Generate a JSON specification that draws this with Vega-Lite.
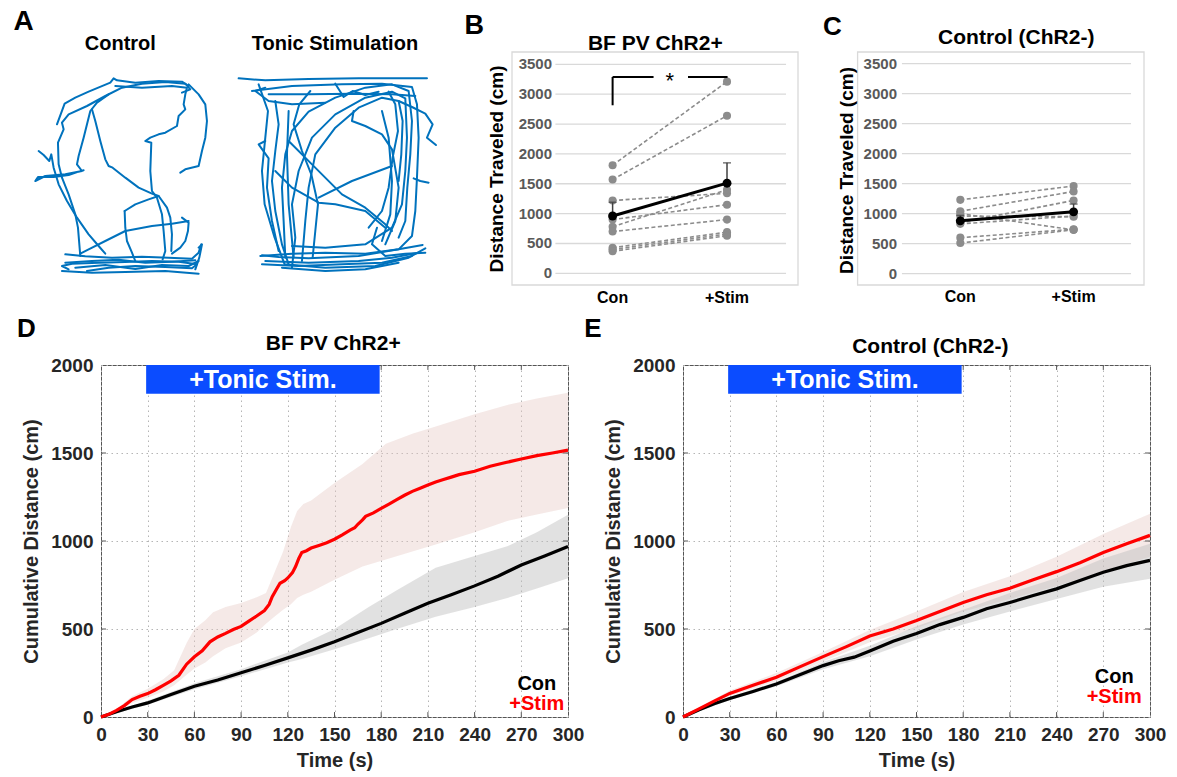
{
"$schema": "https://vega.github.io/schema/vega-lite/v6.json",
"background": "white",
"padding": {"left": 13, "top": 7, "right": 5, "bottom": 5},
"columns": 2,
"bounds": "flush",
"spacing": {"row": 80, "column": 115},
"config": {
 "font": "Liberation Sans",
 "view": {"stroke": null},
 "axis": {"labelFont": "Liberation Sans", "titleFont": "Liberation Sans", "labelFontWeight": "bold", "titleFontWeight": "bold"},
 "text": {"font": "Liberation Sans"}
},
"datasets": {
 "tracks": [
  {"p":"c","s":1,"i":0,"x":185,"y":600},{"p":"c","s":1,"i":1,"x":250,"y":590},{"p":"c","s":1,"i":2,"x":330,"y":585},{"p":"c","s":1,"i":3,"x":420,"y":588},{"p":"c","s":1,"i":4,"x":500,"y":592},{"p":"c","s":1,"i":5,"x":515,"y":580},{"p":"c","s":1,"i":6,"x":460,"y":572},{"p":"c","s":1,"i":7,"x":380,"y":570},{"p":"c","s":1,"i":8,"x":300,"y":573},{"p":"c","s":1,"i":9,"x":220,"y":575},{"p":"c","s":1,"i":10,"x":140,"y":578},{"p":"c","s":1,"i":11,"x":110,"y":585},{"p":"c","s":1,"i":12,"x":130,"y":595},
  {"p":"c","s":2,"i":0,"x":120,"y":550},{"p":"c","s":2,"i":1,"x":180,"y":556},{"p":"c","s":2,"i":2,"x":260,"y":560},{"p":"c","s":2,"i":3,"x":350,"y":557},{"p":"c","s":2,"i":4,"x":430,"y":560},{"p":"c","s":2,"i":5,"x":500,"y":563},{"p":"c","s":2,"i":6,"x":520,"y":545},{"p":"c","s":2,"i":7,"x":528,"y":520},
  {"p":"c","s":3,"i":0,"x":110,"y":600},{"p":"c","s":3,"i":1,"x":200,"y":605},{"p":"c","s":3,"i":2,"x":300,"y":603},{"p":"c","s":3,"i":3,"x":420,"y":600},{"p":"c","s":3,"i":4,"x":520,"y":608},
  {"p":"c","s":4,"i":0,"x":165,"y":555},{"p":"c","s":4,"i":1,"x":158,"y":470},{"p":"c","s":4,"i":2,"x":150,"y":430},{"p":"c","s":4,"i":3,"x":130,"y":370},{"p":"c","s":4,"i":4,"x":110,"y":320},{"p":"c","s":4,"i":5,"x":100,"y":280},{"p":"c","s":4,"i":6,"x":98,"y":215},{"p":"c","s":4,"i":7,"x":115,"y":175},{"p":"c","s":4,"i":8,"x":110,"y":155},{"p":"c","s":4,"i":9,"x":130,"y":130},{"p":"c","s":4,"i":10,"x":185,"y":105},{"p":"c","s":4,"i":11,"x":240,"y":75},{"p":"c","s":4,"i":12,"x":290,"y":50},{"p":"c","s":4,"i":13,"x":350,"y":38},{"p":"c","s":4,"i":14,"x":420,"y":33},{"p":"c","s":4,"i":15,"x":480,"y":38},{"p":"c","s":4,"i":16,"x":495,"y":55},{"p":"c","s":4,"i":17,"x":470,"y":65},
  {"p":"c","s":5,"i":0,"x":95,"y":160},{"p":"c","s":5,"i":1,"x":118,"y":98},{"p":"c","s":5,"i":2,"x":150,"y":80},{"p":"c","s":5,"i":3,"x":190,"y":62},{"p":"c","s":5,"i":4,"x":255,"y":35},{"p":"c","s":5,"i":5,"x":265,"y":22},{"p":"c","s":5,"i":6,"x":275,"y":28},{"p":"c","s":5,"i":7,"x":330,"y":35},{"p":"c","s":5,"i":8,"x":400,"y":30},{"p":"c","s":5,"i":9,"x":470,"y":32},{"p":"c","s":5,"i":10,"x":490,"y":45},
  {"p":"c","s":6,"i":0,"x":270,"y":45},{"p":"c","s":6,"i":1,"x":350,"y":50},{"p":"c","s":6,"i":2,"x":440,"y":45},{"p":"c","s":6,"i":3,"x":485,"y":50},{"p":"c","s":6,"i":4,"x":480,"y":70},{"p":"c","s":6,"i":5,"x":475,"y":100},{"p":"c","s":6,"i":6,"x":480,"y":115},{"p":"c","s":6,"i":7,"x":460,"y":135},{"p":"c","s":6,"i":8,"x":455,"y":165},{"p":"c","s":6,"i":9,"x":420,"y":185},{"p":"c","s":6,"i":10,"x":400,"y":190},{"p":"c","s":6,"i":11,"x":375,"y":200},{"p":"c","s":6,"i":12,"x":360,"y":210},{"p":"c","s":6,"i":13,"x":378,"y":215},{"p":"c","s":6,"i":14,"x":375,"y":300},{"p":"c","s":6,"i":15,"x":380,"y":360},{"p":"c","s":6,"i":16,"x":395,"y":380},{"p":"c","s":6,"i":17,"x":410,"y":430},{"p":"c","s":6,"i":18,"x":415,"y":480},{"p":"c","s":6,"i":19,"x":420,"y":540},{"p":"c","s":6,"i":20,"x":412,"y":565},
  {"p":"c","s":7,"i":0,"x":490,"y":40},{"p":"c","s":7,"i":1,"x":520,"y":70},{"p":"c","s":7,"i":2,"x":540,"y":100},{"p":"c","s":7,"i":3,"x":545,"y":150},{"p":"c","s":7,"i":4,"x":540,"y":200},{"p":"c","s":7,"i":5,"x":530,"y":240},{"p":"c","s":7,"i":6,"x":520,"y":285},{"p":"c","s":7,"i":7,"x":480,"y":295},{"p":"c","s":7,"i":8,"x":465,"y":305},
  {"p":"c","s":8,"i":0,"x":200,"y":115},{"p":"c","s":8,"i":1,"x":210,"y":150},{"p":"c","s":8,"i":2,"x":225,"y":210},{"p":"c","s":8,"i":3,"x":240,"y":265},{"p":"c","s":8,"i":4,"x":250,"y":285},{"p":"c","s":8,"i":5,"x":262,"y":290},{"p":"c","s":8,"i":6,"x":300,"y":320},{"p":"c","s":8,"i":7,"x":340,"y":350},{"p":"c","s":8,"i":8,"x":380,"y":368},{"p":"c","s":8,"i":9,"x":400,"y":375},{"p":"c","s":8,"i":10,"x":425,"y":410},{"p":"c","s":8,"i":11,"x":435,"y":440},{"p":"c","s":8,"i":12,"x":440,"y":490},{"p":"c","s":8,"i":13,"x":438,"y":540},
  {"p":"c","s":9,"i":0,"x":250,"y":70},{"p":"c","s":9,"i":1,"x":215,"y":95},{"p":"c","s":9,"i":2,"x":195,"y":120},{"p":"c","s":9,"i":3,"x":175,"y":200},{"p":"c","s":9,"i":4,"x":160,"y":255},{"p":"c","s":9,"i":5,"x":155,"y":280},{"p":"c","s":9,"i":6,"x":170,"y":300},{"p":"c","s":9,"i":7,"x":120,"y":310},{"p":"c","s":9,"i":8,"x":60,"y":315},{"p":"c","s":9,"i":9,"x":30,"y":330},{"p":"c","s":9,"i":10,"x":38,"y":318},{"p":"c","s":9,"i":11,"x":85,"y":318},{"p":"c","s":9,"i":12,"x":130,"y":312},{"p":"c","s":9,"i":13,"x":160,"y":302},{"p":"c","s":9,"i":14,"x":175,"y":298},
  {"p":"c","s":10,"i":0,"x":40,"y":240},{"p":"c","s":10,"i":1,"x":55,"y":252},{"p":"c","s":10,"i":2,"x":72,"y":270},{"p":"c","s":10,"i":3,"x":78,"y":250},{"p":"c","s":10,"i":4,"x":85,"y":290},{"p":"c","s":10,"i":5,"x":100,"y":340},{"p":"c","s":10,"i":6,"x":125,"y":390},{"p":"c","s":10,"i":7,"x":155,"y":440},{"p":"c","s":10,"i":8,"x":190,"y":490},{"p":"c","s":10,"i":9,"x":220,"y":525},{"p":"c","s":10,"i":10,"x":240,"y":548},
  {"p":"c","s":11,"i":0,"x":490,"y":450},{"p":"c","s":11,"i":1,"x":440,"y":458},{"p":"c","s":11,"i":2,"x":380,"y":465},{"p":"c","s":11,"i":3,"x":300,"y":480},{"p":"c","s":11,"i":4,"x":240,"y":510},{"p":"c","s":11,"i":5,"x":190,"y":535},{"p":"c","s":11,"i":6,"x":165,"y":548},
  {"p":"c","s":12,"i":0,"x":298,"y":420},{"p":"c","s":12,"i":1,"x":300,"y":470},{"p":"c","s":12,"i":2,"x":305,"y":510},{"p":"c","s":12,"i":3,"x":320,"y":545},{"p":"c","s":12,"i":4,"x":330,"y":570},
  {"p":"c","s":13,"i":0,"x":298,"y":420},{"p":"c","s":13,"i":1,"x":330,"y":400},{"p":"c","s":13,"i":2,"x":370,"y":385},{"p":"c","s":13,"i":3,"x":400,"y":375},
  {"p":"c","s":14,"i":0,"x":470,"y":440},{"p":"c","s":14,"i":1,"x":490,"y":455},{"p":"c","s":14,"i":2,"x":488,"y":480},{"p":"c","s":14,"i":3,"x":480,"y":510},{"p":"c","s":14,"i":4,"x":465,"y":530},{"p":"c","s":14,"i":5,"x":440,"y":548},
  {"p":"c","s":15,"i":0,"x":520,"y":530},{"p":"c","s":15,"i":1,"x":530,"y":520},{"p":"c","s":15,"i":2,"x":522,"y":560},{"p":"c","s":15,"i":3,"x":510,"y":595},
  {"p":"c","s":16,"i":0,"x":120,"y":575},{"p":"c","s":16,"i":1,"x":200,"y":570},{"p":"c","s":16,"i":2,"x":280,"y":566},{"p":"c","s":16,"i":3,"x":360,"y":575},{"p":"c","s":16,"i":4,"x":440,"y":572},{"p":"c","s":16,"i":5,"x":510,"y":568},
  {"p":"c","s":17,"i":0,"x":150,"y":590},{"p":"c","s":17,"i":1,"x":240,"y":582},{"p":"c","s":17,"i":2,"x":330,"y":594},{"p":"c","s":17,"i":3,"x":410,"y":582},{"p":"c","s":17,"i":4,"x":490,"y":585},{"p":"c","s":17,"i":5,"x":520,"y":570},
  {"p":"t","s":1,"i":0,"x":40,"y":22},{"p":"t","s":1,"i":1,"x":120,"y":28},{"p":"t","s":1,"i":2,"x":250,"y":24},{"p":"t","s":1,"i":3,"x":400,"y":22},{"p":"t","s":1,"i":4,"x":605,"y":22},
  {"p":"t","s":2,"i":0,"x":80,"y":60},{"p":"t","s":2,"i":1,"x":200,"y":45},{"p":"t","s":2,"i":2,"x":350,"y":40},{"p":"t","s":2,"i":3,"x":470,"y":38},{"p":"t","s":2,"i":4,"x":560,"y":48},{"p":"t","s":2,"i":5,"x":575,"y":100},{"p":"t","s":2,"i":6,"x":580,"y":200},{"p":"t","s":2,"i":7,"x":575,"y":320},{"p":"t","s":2,"i":8,"x":570,"y":420},{"p":"t","s":2,"i":9,"x":560,"y":495},{"p":"t","s":2,"i":10,"x":520,"y":535},{"p":"t","s":2,"i":11,"x":400,"y":555},{"p":"t","s":2,"i":12,"x":250,"y":562},{"p":"t","s":2,"i":13,"x":160,"y":558},{"p":"t","s":2,"i":14,"x":110,"y":553},
  {"p":"t","s":3,"i":0,"x":100,"y":40},{"p":"t","s":3,"i":1,"x":128,"y":120},{"p":"t","s":3,"i":2,"x":120,"y":200},{"p":"t","s":3,"i":3,"x":110,"y":300},{"p":"t","s":3,"i":4,"x":118,"y":400},{"p":"t","s":3,"i":5,"x":148,"y":500},{"p":"t","s":3,"i":6,"x":178,"y":580},{"p":"t","s":3,"i":7,"x":300,"y":590},{"p":"t","s":3,"i":8,"x":450,"y":585},{"p":"t","s":3,"i":9,"x":550,"y":560},{"p":"t","s":3,"i":10,"x":600,"y":532},
  {"p":"t","s":4,"i":0,"x":180,"y":560},{"p":"t","s":4,"i":1,"x":175,"y":450},{"p":"t","s":4,"i":2,"x":170,"y":350},{"p":"t","s":4,"i":3,"x":180,"y":250},{"p":"t","s":4,"i":4,"x":200,"y":180},{"p":"t","s":4,"i":5,"x":250,"y":122},{"p":"t","s":4,"i":6,"x":330,"y":80},{"p":"t","s":4,"i":7,"x":420,"y":50},{"p":"t","s":4,"i":8,"x":500,"y":40},{"p":"t","s":4,"i":9,"x":550,"y":60},{"p":"t","s":4,"i":10,"x":560,"y":150},{"p":"t","s":4,"i":11,"x":555,"y":250},{"p":"t","s":4,"i":12,"x":546,"y":350},{"p":"t","s":4,"i":13,"x":540,"y":450},{"p":"t","s":4,"i":14,"x":520,"y":500},
  {"p":"t","s":5,"i":0,"x":200,"y":590},{"p":"t","s":5,"i":1,"x":210,"y":500},{"p":"t","s":5,"i":2,"x":200,"y":400},{"p":"t","s":5,"i":3,"x":220,"y":300},{"p":"t","s":5,"i":4,"x":260,"y":200},{"p":"t","s":5,"i":5,"x":330,"y":130},{"p":"t","s":5,"i":6,"x":420,"y":80},{"p":"t","s":5,"i":7,"x":500,"y":62},{"p":"t","s":5,"i":8,"x":540,"y":82},{"p":"t","s":5,"i":9,"x":545,"y":200},{"p":"t","s":5,"i":10,"x":540,"y":300},{"p":"t","s":5,"i":11,"x":530,"y":400},{"p":"t","s":5,"i":12,"x":500,"y":470},{"p":"t","s":5,"i":13,"x":420,"y":520},{"p":"t","s":5,"i":14,"x":300,"y":530},{"p":"t","s":5,"i":15,"x":200,"y":525},
  {"p":"t","s":6,"i":0,"x":230,"y":570},{"p":"t","s":6,"i":1,"x":240,"y":450},{"p":"t","s":6,"i":2,"x":250,"y":350},{"p":"t","s":6,"i":3,"x":270,"y":250},{"p":"t","s":6,"i":4,"x":330,"y":170},{"p":"t","s":6,"i":5,"x":400,"y":110},{"p":"t","s":6,"i":6,"x":470,"y":80},{"p":"t","s":6,"i":7,"x":520,"y":90},{"p":"t","s":6,"i":8,"x":532,"y":150},{"p":"t","s":6,"i":9,"x":528,"y":250},{"p":"t","s":6,"i":10,"x":520,"y":330},
  {"p":"t","s":7,"i":0,"x":150,"y":90},{"p":"t","s":7,"i":1,"x":160,"y":160},{"p":"t","s":7,"i":2,"x":150,"y":240},{"p":"t","s":7,"i":3,"x":140,"y":330},{"p":"t","s":7,"i":4,"x":150,"y":420},{"p":"t","s":7,"i":5,"x":170,"y":520},{"p":"t","s":7,"i":6,"x":190,"y":580},
  {"p":"t","s":8,"i":0,"x":190,"y":210},{"p":"t","s":8,"i":1,"x":260,"y":280},{"p":"t","s":8,"i":2,"x":350,"y":370},{"p":"t","s":8,"i":3,"x":420,"y":410},{"p":"t","s":8,"i":4,"x":480,"y":460},{"p":"t","s":8,"i":5,"x":500,"y":480},
  {"p":"t","s":9,"i":0,"x":280,"y":380},{"p":"t","s":9,"i":1,"x":380,"y":330},{"p":"t","s":9,"i":2,"x":500,"y":285},
  {"p":"t","s":10,"i":0,"x":120,"y":210},{"p":"t","s":10,"i":1,"x":100,"y":220},{"p":"t","s":10,"i":2,"x":130,"y":262},{"p":"t","s":10,"i":3,"x":125,"y":350},{"p":"t","s":10,"i":4,"x":140,"y":450},{"p":"t","s":10,"i":5,"x":160,"y":540},
  {"p":"t","s":11,"i":0,"x":385,"y":120},{"p":"t","s":11,"i":1,"x":380,"y":150},{"p":"t","s":11,"i":2,"x":420,"y":165},{"p":"t","s":11,"i":3,"x":470,"y":190},{"p":"t","s":11,"i":4,"x":500,"y":235},{"p":"t","s":11,"i":5,"x":520,"y":350},{"p":"t","s":11,"i":6,"x":510,"y":450},{"p":"t","s":11,"i":7,"x":480,"y":520},
  {"p":"t","s":12,"i":0,"x":520,"y":90},{"p":"t","s":12,"i":1,"x":560,"y":108},{"p":"t","s":12,"i":2,"x":600,"y":128},{"p":"t","s":12,"i":3,"x":622,"y":160},{"p":"t","s":12,"i":4,"x":605,"y":200},{"p":"t","s":12,"i":5,"x":632,"y":222},
  {"p":"t","s":13,"i":0,"x":600,"y":545},{"p":"t","s":13,"i":1,"x":540,"y":548},{"p":"t","s":13,"i":2,"x":480,"y":555},{"p":"t","s":13,"i":3,"x":440,"y":520},{"p":"t","s":13,"i":4,"x":455,"y":470},
  {"p":"t","s":14,"i":0,"x":255,"y":60},{"p":"t","s":14,"i":1,"x":222,"y":100},{"p":"t","s":14,"i":2,"x":205,"y":160},{"p":"t","s":14,"i":3,"x":230,"y":240},{"p":"t","s":14,"i":4,"x":258,"y":310},{"p":"t","s":14,"i":5,"x":278,"y":400},{"p":"t","s":14,"i":6,"x":270,"y":480},{"p":"t","s":14,"i":7,"x":262,"y":560},
  {"p":"t","s":15,"i":0,"x":105,"y":555},{"p":"t","s":15,"i":1,"x":200,"y":548},{"p":"t","s":15,"i":2,"x":300,"y":545},{"p":"t","s":15,"i":3,"x":420,"y":548},{"p":"t","s":15,"i":4,"x":520,"y":535},{"p":"t","s":15,"i":5,"x":592,"y":522},
  {"p":"t","s":16,"i":0,"x":330,"y":38},{"p":"t","s":16,"i":1,"x":355,"y":78},{"p":"t","s":16,"i":2,"x":382,"y":60},{"p":"t","s":16,"i":3,"x":420,"y":72},{"p":"t","s":16,"i":4,"x":460,"y":62},
  {"p":"t","s":17,"i":0,"x":490,"y":62},{"p":"t","s":17,"i":1,"x":510,"y":100},{"p":"t","s":17,"i":2,"x":518,"y":180},{"p":"t","s":17,"i":3,"x":502,"y":260},{"p":"t","s":17,"i":4,"x":490,"y":350},{"p":"t","s":17,"i":5,"x":470,"y":420},{"p":"t","s":17,"i":6,"x":430,"y":470},
  {"p":"t","s":18,"i":0,"x":610,"y":335},{"p":"t","s":18,"i":1,"x":585,"y":330},{"p":"t","s":18,"i":2,"x":565,"y":322},
  {"p":"t","s":19,"i":0,"x":120,"y":50},{"p":"t","s":19,"i":1,"x":90,"y":60},{"p":"t","s":19,"i":2,"x":130,"y":90},{"p":"t","s":19,"i":3,"x":200,"y":100},{"p":"t","s":19,"i":4,"x":300,"y":95},
  {"p":"t","s":20,"i":0,"x":150,"y":300},{"p":"t","s":20,"i":1,"x":200,"y":350},{"p":"t","s":20,"i":2,"x":280,"y":395},{"p":"t","s":20,"i":3,"x":330,"y":400},{"p":"t","s":20,"i":4,"x":420,"y":420},{"p":"t","s":20,"i":5,"x":480,"y":470},
  {"p":"t","s":22,"i":0,"x":120,"y":570},{"p":"t","s":22,"i":1,"x":250,"y":575},{"p":"t","s":22,"i":2,"x":400,"y":570},{"p":"t","s":22,"i":3,"x":500,"y":560},{"p":"t","s":22,"i":4,"x":580,"y":545},
  {"p":"t","s":23,"i":0,"x":170,"y":590},{"p":"t","s":23,"i":1,"x":300,"y":600},{"p":"t","s":23,"i":2,"x":420,"y":595},{"p":"t","s":23,"i":3,"x":520,"y":575},
  {"p":"t","s":24,"i":0,"x":110,"y":580},{"p":"t","s":24,"i":1,"x":220,"y":585},{"p":"t","s":24,"i":2,"x":350,"y":580},{"p":"t","s":24,"i":3,"x":470,"y":575},{"p":"t","s":24,"i":4,"x":560,"y":555},
  {"p":"t","s":25,"i":0,"x":130,"y":70},{"p":"t","s":25,"i":1,"x":250,"y":70},{"p":"t","s":25,"i":2,"x":380,"y":68},{"p":"t","s":25,"i":3,"x":500,"y":70},{"p":"t","s":25,"i":4,"x":570,"y":75},
  {"p":"t","s":26,"i":0,"x":190,"y":120},{"p":"t","s":26,"i":1,"x":185,"y":250},{"p":"t","s":26,"i":2,"x":190,"y":400},{"p":"t","s":26,"i":3,"x":205,"y":560},
  {"p":"t","s":27,"i":0,"x":470,"y":120},{"p":"t","s":27,"i":1,"x":490,"y":200},{"p":"t","s":27,"i":2,"x":500,"y":330},{"p":"t","s":27,"i":3,"x":495,"y":430},{"p":"t","s":27,"i":4,"x":470,"y":510}
 ],
 "pairs": [
  {"pn":"B","a":1,"c":0,"v":1810},{"pn":"B","a":1,"c":1,"v":3210},
  {"pn":"B","a":2,"c":0,"v":1570},{"pn":"B","a":2,"c":1,"v":2640},
  {"pn":"B","a":3,"c":0,"v":1220},{"pn":"B","a":3,"c":1,"v":1340},
  {"pn":"B","a":4,"c":0,"v":780},{"pn":"B","a":4,"c":1,"v":1400},
  {"pn":"B","a":5,"c":0,"v":900},{"pn":"B","a":5,"c":1,"v":1150},
  {"pn":"B","a":6,"c":0,"v":700},{"pn":"B","a":6,"c":1,"v":900},
  {"pn":"B","a":7,"c":0,"v":430},{"pn":"B","a":7,"c":1,"v":690},
  {"pn":"B","a":8,"c":0,"v":400},{"pn":"B","a":8,"c":1,"v":660},
  {"pn":"B","a":9,"c":0,"v":370},{"pn":"B","a":9,"c":1,"v":630},
  {"pn":"C","a":1,"c":0,"v":1230},{"pn":"C","a":1,"c":1,"v":1460},
  {"pn":"C","a":2,"c":0,"v":1040},{"pn":"C","a":2,"c":1,"v":1370},
  {"pn":"C","a":3,"c":0,"v":1000},{"pn":"C","a":3,"c":1,"v":730},
  {"pn":"C","a":4,"c":0,"v":960},{"pn":"C","a":4,"c":1,"v":950},
  {"pn":"C","a":5,"c":0,"v":850},{"pn":"C","a":5,"c":1,"v":1220},
  {"pn":"C","a":6,"c":0,"v":830},{"pn":"C","a":6,"c":1,"v":960},
  {"pn":"C","a":7,"c":0,"v":600},{"pn":"C","a":7,"c":1,"v":740},
  {"pn":"C","a":8,"c":0,"v":510},{"pn":"C","a":8,"c":1,"v":730}
 ],
 "means": [
  {"pn":"B","c":0,"v":960,"u":1190},{"pn":"B","c":1,"v":1510,"u":1850},
  {"pn":"C","c":0,"v":880,"u":970},{"pn":"C","c":1,"v":1030,"u":1160}
 ],
 "grid": [{"v":0},{"v":500},{"v":1000},{"v":1500},{"v":2000},{"v":2500},{"v":3000},{"v":3500}],
 "xticks": [{"t":30},{"t":60},{"t":90},{"t":120},{"t":150},{"t":180},{"t":210},{"t":240},{"t":270}],
 "yticks": [{"v":500},{"v":1000},{"v":1500}],
 "lines": [
  {"pn":"D","g":"Stim","t":0,"v":0},{"pn":"D","g":"Stim","t":5,"v":15},{"pn":"D","g":"Stim","t":10,"v":38},{"pn":"D","g":"Stim","t":15,"v":65},{"pn":"D","g":"Stim","t":20,"v":99},{"pn":"D","g":"Stim","t":25,"v":118},{"pn":"D","g":"Stim","t":30,"v":133},{"pn":"D","g":"Stim","t":35,"v":155},{"pn":"D","g":"Stim","t":40,"v":180},{"pn":"D","g":"Stim","t":45,"v":205},{"pn":"D","g":"Stim","t":50,"v":237},{"pn":"D","g":"Stim","t":55,"v":300},{"pn":"D","g":"Stim","t":60,"v":342},{"pn":"D","g":"Stim","t":65,"v":376},{"pn":"D","g":"Stim","t":70,"v":427},{"pn":"D","g":"Stim","t":75,"v":455},{"pn":"D","g":"Stim","t":80,"v":475},{"pn":"D","g":"Stim","t":85,"v":497},{"pn":"D","g":"Stim","t":90,"v":515},{"pn":"D","g":"Stim","t":95,"v":545},{"pn":"D","g":"Stim","t":100,"v":574},{"pn":"D","g":"Stim","t":105,"v":605},{"pn":"D","g":"Stim","t":108,"v":640},{"pn":"D","g":"Stim","t":110,"v":684},{"pn":"D","g":"Stim","t":113,"v":730},{"pn":"D","g":"Stim","t":115,"v":760},{"pn":"D","g":"Stim","t":118,"v":775},{"pn":"D","g":"Stim","t":120,"v":790},{"pn":"D","g":"Stim","t":123,"v":820},{"pn":"D","g":"Stim","t":125,"v":855},{"pn":"D","g":"Stim","t":127,"v":900},{"pn":"D","g":"Stim","t":129,"v":935},{"pn":"D","g":"Stim","t":132,"v":945},{"pn":"D","g":"Stim","t":135,"v":960},{"pn":"D","g":"Stim","t":140,"v":975},{"pn":"D","g":"Stim","t":145,"v":990},{"pn":"D","g":"Stim","t":150,"v":1010},{"pn":"D","g":"Stim","t":155,"v":1035},{"pn":"D","g":"Stim","t":160,"v":1062},{"pn":"D","g":"Stim","t":163,"v":1075},{"pn":"D","g":"Stim","t":165,"v":1095},{"pn":"D","g":"Stim","t":168,"v":1120},{"pn":"D","g":"Stim","t":170,"v":1140},{"pn":"D","g":"Stim","t":175,"v":1160},{"pn":"D","g":"Stim","t":180,"v":1185},{"pn":"D","g":"Stim","t":185,"v":1210},{"pn":"D","g":"Stim","t":190,"v":1235},{"pn":"D","g":"Stim","t":195,"v":1260},{"pn":"D","g":"Stim","t":200,"v":1282},{"pn":"D","g":"Stim","t":205,"v":1300},{"pn":"D","g":"Stim","t":210,"v":1318},{"pn":"D","g":"Stim","t":215,"v":1335},{"pn":"D","g":"Stim","t":220,"v":1349},{"pn":"D","g":"Stim","t":225,"v":1363},{"pn":"D","g":"Stim","t":230,"v":1377},{"pn":"D","g":"Stim","t":240,"v":1396},{"pn":"D","g":"Stim","t":250,"v":1425},{"pn":"D","g":"Stim","t":260,"v":1446},{"pn":"D","g":"Stim","t":270,"v":1466},{"pn":"D","g":"Stim","t":280,"v":1485},{"pn":"D","g":"Stim","t":290,"v":1500},{"pn":"D","g":"Stim","t":300,"v":1516},
  {"pn":"D","g":"Con","t":0,"v":0},{"pn":"D","g":"Con","t":10,"v":30},{"pn":"D","g":"Con","t":20,"v":57},{"pn":"D","g":"Con","t":30,"v":80},{"pn":"D","g":"Con","t":45,"v":128},{"pn":"D","g":"Con","t":60,"v":175},{"pn":"D","g":"Con","t":75,"v":210},{"pn":"D","g":"Con","t":90,"v":251},{"pn":"D","g":"Con","t":105,"v":293},{"pn":"D","g":"Con","t":120,"v":336},{"pn":"D","g":"Con","t":135,"v":380},{"pn":"D","g":"Con","t":150,"v":427},{"pn":"D","g":"Con","t":165,"v":480},{"pn":"D","g":"Con","t":180,"v":532},{"pn":"D","g":"Con","t":195,"v":590},{"pn":"D","g":"Con","t":210,"v":646},{"pn":"D","g":"Con","t":225,"v":695},{"pn":"D","g":"Con","t":240,"v":745},{"pn":"D","g":"Con","t":255,"v":800},{"pn":"D","g":"Con","t":270,"v":864},{"pn":"D","g":"Con","t":285,"v":915},{"pn":"D","g":"Con","t":300,"v":969},
  {"pn":"E","g":"Stim","t":0,"v":0},{"pn":"E","g":"Stim","t":10,"v":45},{"pn":"E","g":"Stim","t":20,"v":90},{"pn":"E","g":"Stim","t":30,"v":134},{"pn":"E","g":"Stim","t":45,"v":180},{"pn":"E","g":"Stim","t":60,"v":226},{"pn":"E","g":"Stim","t":75,"v":285},{"pn":"E","g":"Stim","t":90,"v":343},{"pn":"E","g":"Stim","t":105,"v":400},{"pn":"E","g":"Stim","t":120,"v":460},{"pn":"E","g":"Stim","t":135,"v":500},{"pn":"E","g":"Stim","t":150,"v":548},{"pn":"E","g":"Stim","t":165,"v":600},{"pn":"E","g":"Stim","t":180,"v":650},{"pn":"E","g":"Stim","t":195,"v":695},{"pn":"E","g":"Stim","t":210,"v":732},{"pn":"E","g":"Stim","t":225,"v":780},{"pn":"E","g":"Stim","t":240,"v":826},{"pn":"E","g":"Stim","t":255,"v":877},{"pn":"E","g":"Stim","t":270,"v":935},{"pn":"E","g":"Stim","t":285,"v":985},{"pn":"E","g":"Stim","t":300,"v":1032},
  {"pn":"E","g":"Con","t":0,"v":0},{"pn":"E","g":"Con","t":10,"v":40},{"pn":"E","g":"Con","t":20,"v":75},{"pn":"E","g":"Con","t":30,"v":105},{"pn":"E","g":"Con","t":45,"v":145},{"pn":"E","g":"Con","t":60,"v":188},{"pn":"E","g":"Con","t":75,"v":240},{"pn":"E","g":"Con","t":90,"v":292},{"pn":"E","g":"Con","t":100,"v":320},{"pn":"E","g":"Con","t":110,"v":340},{"pn":"E","g":"Con","t":120,"v":375},{"pn":"E","g":"Con","t":135,"v":430},{"pn":"E","g":"Con","t":150,"v":475},{"pn":"E","g":"Con","t":165,"v":525},{"pn":"E","g":"Con","t":180,"v":566},{"pn":"E","g":"Con","t":195,"v":615},{"pn":"E","g":"Con","t":210,"v":651},{"pn":"E","g":"Con","t":225,"v":690},{"pn":"E","g":"Con","t":240,"v":728},{"pn":"E","g":"Con","t":255,"v":775},{"pn":"E","g":"Con","t":270,"v":822},{"pn":"E","g":"Con","t":285,"v":860},{"pn":"E","g":"Con","t":300,"v":890}
 ],
 "bands": [
  {"pn":"D","g":"Stim","t":0,"lo":0,"hi":0},{"pn":"D","g":"Stim","t":10,"lo":30,"hi":45},{"pn":"D","g":"Stim","t":20,"lo":80,"hi":118},{"pn":"D","g":"Stim","t":30,"lo":110,"hi":160},{"pn":"D","g":"Stim","t":40,"lo":145,"hi":215},{"pn":"D","g":"Stim","t":47,"lo":180,"hi":265},{"pn":"D","g":"Stim","t":55,"lo":240,"hi":420},{"pn":"D","g":"Stim","t":60,"lo":275,"hi":500},{"pn":"D","g":"Stim","t":67,"lo":310,"hi":550},{"pn":"D","g":"Stim","t":72,"lo":345,"hi":595},{"pn":"D","g":"Stim","t":80,"lo":390,"hi":625},{"pn":"D","g":"Stim","t":90,"lo":424,"hi":648},{"pn":"D","g":"Stim","t":100,"lo":480,"hi":680},{"pn":"D","g":"Stim","t":106,"lo":530,"hi":705},{"pn":"D","g":"Stim","t":110,"lo":560,"hi":790},{"pn":"D","g":"Stim","t":117,"lo":610,"hi":940},{"pn":"D","g":"Stim","t":122,"lo":640,"hi":1080},{"pn":"D","g":"Stim","t":126,"lo":676,"hi":1170},{"pn":"D","g":"Stim","t":130,"lo":695,"hi":1210},{"pn":"D","g":"Stim","t":135,"lo":712,"hi":1230},{"pn":"D","g":"Stim","t":150,"lo":780,"hi":1330},{"pn":"D","g":"Stim","t":168,"lo":855,"hi":1438},{"pn":"D","g":"Stim","t":183,"lo":895,"hi":1553},{"pn":"D","g":"Stim","t":200,"lo":940,"hi":1610},{"pn":"D","g":"Stim","t":215,"lo":980,"hi":1650},{"pn":"D","g":"Stim","t":240,"lo":1050,"hi":1720},{"pn":"D","g":"Stim","t":261,"lo":1114,"hi":1773},{"pn":"D","g":"Stim","t":280,"lo":1150,"hi":1810},{"pn":"D","g":"Stim","t":300,"lo":1187,"hi":1842},
  {"pn":"D","g":"Con","t":0,"lo":0,"hi":0},{"pn":"D","g":"Con","t":30,"lo":70,"hi":92},{"pn":"D","g":"Con","t":60,"lo":158,"hi":192},{"pn":"D","g":"Con","t":90,"lo":232,"hi":272},{"pn":"D","g":"Con","t":120,"lo":310,"hi":366},{"pn":"D","g":"Con","t":129,"lo":330,"hi":410},{"pn":"D","g":"Con","t":150,"lo":385,"hi":500},{"pn":"D","g":"Con","t":172,"lo":447,"hi":625},{"pn":"D","g":"Con","t":190,"lo":500,"hi":720},{"pn":"D","g":"Con","t":215,"lo":569,"hi":848},{"pn":"D","g":"Con","t":240,"lo":625,"hi":915},{"pn":"D","g":"Con","t":261,"lo":676,"hi":970},{"pn":"D","g":"Con","t":280,"lo":730,"hi":1050},{"pn":"D","g":"Con","t":300,"lo":788,"hi":1149},
  {"pn":"E","g":"Stim","t":0,"lo":0,"hi":0},{"pn":"E","g":"Stim","t":30,"lo":120,"hi":150},{"pn":"E","g":"Stim","t":60,"lo":205,"hi":250},{"pn":"E","g":"Stim","t":90,"lo":315,"hi":370},{"pn":"E","g":"Stim","t":120,"lo":425,"hi":495},{"pn":"E","g":"Stim","t":150,"lo":505,"hi":600},{"pn":"E","g":"Stim","t":180,"lo":600,"hi":710},{"pn":"E","g":"Stim","t":210,"lo":670,"hi":800},{"pn":"E","g":"Stim","t":240,"lo":745,"hi":910},{"pn":"E","g":"Stim","t":270,"lo":830,"hi":1040},{"pn":"E","g":"Stim","t":300,"lo":910,"hi":1155},
  {"pn":"E","g":"Con","t":0,"lo":0,"hi":0},{"pn":"E","g":"Con","t":30,"lo":95,"hi":115},{"pn":"E","g":"Con","t":60,"lo":175,"hi":200},{"pn":"E","g":"Con","t":90,"lo":272,"hi":312},{"pn":"E","g":"Con","t":120,"lo":345,"hi":405},{"pn":"E","g":"Con","t":150,"lo":440,"hi":515},{"pn":"E","g":"Con","t":180,"lo":525,"hi":610},{"pn":"E","g":"Con","t":210,"lo":600,"hi":705},{"pn":"E","g":"Con","t":240,"lo":670,"hi":790},{"pn":"E","g":"Con","t":270,"lo":740,"hi":900},{"pn":"E","g":"Con","t":300,"lo":786,"hi":985}
 ]
},
"concat": [
 {
  "width": 467, "height": 233,
  "resolve": {"scale": {"x": "independent", "y": "independent"}},
  "layer": [
   {"layer": [
     {"data": {"name": "tracks"}, "transform": [{"filter": "datum.p == 'c'"}],
      "mark": {"type": "line", "color": "#0072bd", "strokeWidth": 2, "strokeJoin": "round", "strokeCap": "round"},
      "encoding": {
       "x": {"field": "x", "type": "quantitative", "scale": {"domain": [227.1, 1628.1], "nice": false, "zero": false}, "axis": null},
       "y": {"field": "y", "type": "quantitative", "scale": {"domain": [-57, 642], "reverse": true, "nice": false, "zero": false}, "axis": null},
       "detail": {"field": "s"}, "order": {"field": "i"}}},
     {"data": {"values": [{}]}, "mark": {"type": "text", "text": "A", "fontSize": 28, "fontWeight": "bold", "align": "center", "baseline": "middle", "color": "#000000"},
      "encoding": {"x": {"datum": -5, "type": "quantitative", "axis": null}, "y": {"datum": -148, "type": "quantitative", "axis": null}}},
     {"data": {"values": [{}]}, "mark": {"type": "text", "text": "Control", "fontSize": 20, "fontWeight": "bold", "align": "center", "baseline": "alphabetic", "color": "#000000"},
      "encoding": {"x": {"datum": 285, "type": "quantitative", "axis": null}, "y": {"datum": -62, "type": "quantitative", "axis": null}}}
   ]},
   {"layer": [
     {"data": {"name": "tracks"}, "transform": [{"filter": "datum.p == 't'"}],
      "mark": {"type": "line", "color": "#0072bd", "strokeWidth": 2, "strokeJoin": "round", "strokeCap": "round"},
      "encoding": {
       "x": {"field": "x", "type": "quantitative", "scale": {"domain": [-372.9, 1028.1], "nice": false, "zero": false}, "axis": null},
       "y": {"field": "y", "type": "quantitative", "scale": {"domain": [-57, 642], "reverse": true, "nice": false, "zero": false}, "axis": null},
       "detail": {"field": "s"}, "order": {"field": "i"}}},
     {"data": {"values": [{}]}, "mark": {"type": "text", "text": "Tonic Stimulation", "fontSize": 20, "fontWeight": "bold", "align": "center", "baseline": "alphabetic", "color": "#000000"},
      "encoding": {"x": {"datum": 329, "type": "quantitative", "axis": null}, "y": {"datum": -62, "type": "quantitative", "axis": null}}}
   ]},
   {"layer": [
     {"data": {"name": "grid"}, "mark": {"type": "rule", "color": "#d9d9d9", "strokeWidth": 1.3},
      "encoding": {
       "x": {"datum": -0.5, "type": "quantitative", "scale": {"domain": [-4.472, -0.3899], "nice": false, "zero": false}, "axis": null},
       "x2": {"datum": 1.516},
       "y": {"field": "v", "type": "quantitative", "scale": {"domain": [-195, 3706], "nice": false, "zero": false}, "axis": null}}},
     {"data": {"name": "grid"}, "mark": {"type": "text", "fontSize": 15, "fontWeight": "bold", "color": "#595959", "align": "right", "baseline": "middle"},
      "encoding": {"x": {"datum": -0.5297, "type": "quantitative", "axis": null}, "y": {"field": "v", "type": "quantitative", "axis": null}, "text": {"field": "v", "type": "quantitative", "format": "d"}}},
     {"data": {"values": [{}]}, "mark": {"type": "rect", "fill": "#ffffff", "fillOpacity": 0, "stroke": "#d9d9d9", "strokeWidth": 1.3},
      "encoding": {"x": {"datum": -0.8794, "type": "quantitative", "axis": null}, "x2": {"datum": 1.6206}, "y": {"datum": -195, "type": "quantitative", "axis": null}, "y2": {"datum": 3706}}},
     {"data": {"name": "pairs"}, "transform": [{"filter": "datum.pn == 'B'"}],
      "mark": {"type": "line", "color": "#8c8c8c", "strokeWidth": 1.6, "strokeDash": [4, 2.5]},
      "encoding": {"x": {"field": "c", "type": "quantitative", "axis": null}, "y": {"field": "v", "type": "quantitative", "axis": null}, "detail": {"field": "a"}}},
     {"data": {"name": "pairs"}, "transform": [{"filter": "datum.pn == 'B'"}],
      "mark": {"type": "circle", "color": "#8c8c8c", "size": 65, "opacity": 1},
      "encoding": {"x": {"field": "c", "type": "quantitative", "axis": null}, "y": {"field": "v", "type": "quantitative", "axis": null}}},
     {"data": {"name": "means"}, "transform": [{"filter": "datum.pn == 'B'"}],
      "mark": {"type": "rule", "color": "#404040", "strokeWidth": 1.5},
      "encoding": {"x": {"field": "c", "type": "quantitative", "axis": null}, "y": {"field": "v", "type": "quantitative", "axis": null}, "y2": {"field": "u"}}},
     {"data": {"name": "means"}, "transform": [{"filter": "datum.pn == 'B'"}],
      "mark": {"type": "tick", "orient": "horizontal", "color": "#404040", "size": 8, "thickness": 1.5},
      "encoding": {"x": {"field": "c", "type": "quantitative", "axis": null}, "y": {"field": "u", "type": "quantitative", "axis": null}}},
     {"data": {"name": "means"}, "transform": [{"filter": "datum.pn == 'B'"}],
      "mark": {"type": "line", "color": "#000000", "strokeWidth": 3},
      "encoding": {"x": {"field": "c", "type": "quantitative", "axis": null}, "y": {"field": "v", "type": "quantitative", "axis": null}}},
     {"data": {"name": "means"}, "transform": [{"filter": "datum.pn == 'B'"}],
      "mark": {"type": "circle", "color": "#000000", "size": 80, "opacity": 1},
      "encoding": {"x": {"field": "c", "type": "quantitative", "axis": null}, "y": {"field": "v", "type": "quantitative", "axis": null}}},
     {"data": {"values": [{}]}, "mark": {"type": "rule", "color": "#000000", "strokeWidth": 2},
      "encoding": {"x": {"datum": 0, "type": "quantitative", "axis": null}, "y": {"datum": 2814, "type": "quantitative", "axis": null}, "y2": {"datum": 3288}}},
     {"data": {"values": [{}]}, "mark": {"type": "rule", "color": "#000000", "strokeWidth": 2},
      "encoding": {"x": {"datum": 0, "type": "quantitative", "axis": null}, "x2": {"datum": 0.358}, "y": {"datum": 3288, "type": "quantitative", "axis": null}}},
     {"data": {"values": [{}]}, "mark": {"type": "rule", "color": "#000000", "strokeWidth": 2},
      "encoding": {"x": {"datum": 0.659, "type": "quantitative", "axis": null}, "x2": {"datum": 1.005}, "y": {"datum": 3288, "type": "quantitative", "axis": null}}},
     {"data": {"values": [{}]}, "mark": {"type": "text", "text": "*", "fontSize": 22, "align": "center", "baseline": "alphabetic", "color": "#000000"},
      "encoding": {"x": {"datum": 0.5, "type": "quantitative", "axis": null}, "y": {"datum": 3110, "type": "quantitative", "axis": null}}},
     {"data": {"values": [{"lab": "Con", "c": 0}, {"lab": "+Stim", "c": 1}]}, "mark": {"type": "text", "fontSize": 16, "fontWeight": "bold", "align": "center", "baseline": "middle", "color": "#000000"},
      "encoding": {"x": {"field": "c", "type": "quantitative", "axis": null}, "y": {"datum": -405, "type": "quantitative", "axis": null}, "text": {"field": "lab"}}},
     {"data": {"values": [{}]}, "mark": {"type": "text", "text": "Distance Traveled (cm)", "angle": 270, "fontSize": 19, "fontWeight": "bold", "align": "center", "baseline": "middle", "color": "#000000"},
      "encoding": {"x": {"datum": -1.0105, "type": "quantitative", "axis": null}, "y": {"datum": 1747, "type": "quantitative", "axis": null}}},
     {"data": {"values": [{}]}, "mark": {"type": "text", "text": "BF PV ChR2+", "fontSize": 21, "fontWeight": "bold", "align": "center", "baseline": "alphabetic", "color": "#000000"},
      "encoding": {"x": {"datum": 0.373, "type": "quantitative", "axis": null}, "y": {"datum": 3732, "type": "quantitative", "axis": null}}},
     {"data": {"values": [{}]}, "mark": {"type": "text", "text": "B", "fontSize": 27, "fontWeight": "bold", "align": "center", "baseline": "middle", "color": "#000000"},
      "encoding": {"x": {"datum": -1.209, "type": "quantitative", "axis": null}, "y": {"datum": 4142, "type": "quantitative", "axis": null}}}
   ]}
  ]
 },
 {
  "width": 461, "height": 233,
  "layer": [
   {"data": {"name": "grid"}, "mark": {"type": "rule", "color": "#d9d9d9", "strokeWidth": 1.3},
    "encoding": {
     "x": {"datum": -0.515, "type": "quantitative", "scale": {"domain": [-2.4475, 1.6214], "nice": false, "zero": false}, "axis": null},
     "x2": {"datum": 1.507},
     "y": {"field": "v", "type": "quantitative", "scale": {"domain": [-189, 3694], "nice": false, "zero": false}, "axis": null}}},
   {"data": {"name": "grid"}, "mark": {"type": "text", "fontSize": 15, "fontWeight": "bold", "color": "#595959", "align": "right", "baseline": "middle"},
    "encoding": {"x": {"datum": -0.5587, "type": "quantitative", "axis": null}, "y": {"field": "v", "type": "quantitative", "axis": null}, "text": {"field": "v", "type": "quantitative", "format": "d"}}},
   {"data": {"values": [{}]}, "mark": {"type": "rect", "fill": "#ffffff", "fillOpacity": 0, "stroke": "#d9d9d9", "strokeWidth": 1.3},
    "encoding": {"x": {"datum": -0.9065, "type": "quantitative", "axis": null}, "x2": {"datum": 1.6214}, "y": {"datum": -189, "type": "quantitative", "axis": null}, "y2": {"datum": 3694}}},
   {"data": {"name": "pairs"}, "transform": [{"filter": "datum.pn == 'C'"}],
    "mark": {"type": "line", "color": "#8c8c8c", "strokeWidth": 1.6, "strokeDash": [4, 2.5]},
    "encoding": {"x": {"field": "c", "type": "quantitative", "axis": null}, "y": {"field": "v", "type": "quantitative", "axis": null}, "detail": {"field": "a"}}},
   {"data": {"name": "pairs"}, "transform": [{"filter": "datum.pn == 'C'"}],
    "mark": {"type": "circle", "color": "#8c8c8c", "size": 65, "opacity": 1},
    "encoding": {"x": {"field": "c", "type": "quantitative", "axis": null}, "y": {"field": "v", "type": "quantitative", "axis": null}}},
   {"data": {"name": "means"}, "transform": [{"filter": "datum.pn == 'C'"}],
    "mark": {"type": "rule", "color": "#404040", "strokeWidth": 1.5},
    "encoding": {"x": {"field": "c", "type": "quantitative", "axis": null}, "y": {"field": "v", "type": "quantitative", "axis": null}, "y2": {"field": "u"}}},
   {"data": {"name": "means"}, "transform": [{"filter": "datum.pn == 'C'"}],
    "mark": {"type": "tick", "orient": "horizontal", "color": "#404040", "size": 8, "thickness": 1.5},
    "encoding": {"x": {"field": "c", "type": "quantitative", "axis": null}, "y": {"field": "u", "type": "quantitative", "axis": null}}},
   {"data": {"name": "means"}, "transform": [{"filter": "datum.pn == 'C'"}],
    "mark": {"type": "line", "color": "#000000", "strokeWidth": 3},
    "encoding": {"x": {"field": "c", "type": "quantitative", "axis": null}, "y": {"field": "v", "type": "quantitative", "axis": null}}},
   {"data": {"name": "means"}, "transform": [{"filter": "datum.pn == 'C'"}],
    "mark": {"type": "circle", "color": "#000000", "size": 80, "opacity": 1},
    "encoding": {"x": {"field": "c", "type": "quantitative", "axis": null}, "y": {"field": "v", "type": "quantitative", "axis": null}}},
   {"data": {"values": [{"lab": "Con", "c": 0}, {"lab": "+Stim", "c": 1}]}, "mark": {"type": "text", "fontSize": 16, "fontWeight": "bold", "align": "center", "baseline": "middle", "color": "#000000"},
    "encoding": {"x": {"field": "c", "type": "quantitative", "axis": null}, "y": {"datum": -389, "type": "quantitative", "axis": null}, "text": {"field": "lab"}}},
   {"data": {"values": [{}]}, "mark": {"type": "text", "text": "Distance Traveled (cm)", "angle": 270, "fontSize": 19, "fontWeight": "bold", "align": "center", "baseline": "middle", "color": "#000000"},
    "encoding": {"x": {"datum": -1.0, "type": "quantitative", "axis": null}, "y": {"datum": 1719, "type": "quantitative", "axis": null}}},
   {"data": {"values": [{}]}, "mark": {"type": "text", "text": "Control (ChR2-)", "fontSize": 21, "fontWeight": "bold", "align": "center", "baseline": "alphabetic", "color": "#000000"},
    "encoding": {"x": {"datum": 0.494, "type": "quantitative", "axis": null}, "y": {"datum": 3828, "type": "quantitative", "axis": null}}},
   {"data": {"values": [{}]}, "mark": {"type": "text", "text": "C", "fontSize": 26, "fontWeight": "bold", "align": "center", "baseline": "middle", "color": "#000000"},
    "encoding": {"x": {"datum": -1.13, "type": "quantitative", "axis": null}, "y": {"datum": 4111, "type": "quantitative", "axis": null}}}
  ]
 },
 {
  "width": 467, "height": 352,
  "view": {"stroke": "#555555", "strokeWidth": 1},
  "layer": [
   {"data": {"name": "bands"}, "transform": [{"filter": "datum.pn == 'D' && datum.g == 'Stim'"}],
    "mark": {"type": "area", "color": "#e6c9c2", "opacity": 0.4},
    "encoding": {
     "x": {"field": "t", "type": "quantitative", "scale": {"domain": [0, 300], "nice": false, "zero": false},
           "axis": {"values": [0, 30, 60, 90, 120, 150, 180, 210, 240, 270, 300], "title": "Time (s)", "grid": true, "gridDash": [1.5, 3.5], "gridColor": "#b5b5b5", "gridWidth": 1, "domain": false, "ticks": false, "labelPadding": 8, "labelFontSize": 19, "labelColor": "#262626", "labelFlush": false, "titleFontSize": 20, "titleColor": "#262626", "titlePadding": 6}},
     "y": {"field": "lo", "type": "quantitative", "scale": {"domain": [0, 2000], "nice": false},
           "axis": {"values": [0, 500, 1000, 1500, 2000], "format": "d", "title": "Cumulative Distance (cm)", "grid": true, "gridDash": [1.5, 3.5], "gridColor": "#b5b5b5", "gridWidth": 1, "domain": false, "ticks": false, "labelPadding": 8, "labelFontSize": 19, "labelColor": "#262626", "titleFontSize": 20, "titleColor": "#262626", "titlePadding": 9}},
     "y2": {"field": "hi"}}},
   {"data": {"name": "bands"}, "transform": [{"filter": "datum.pn == 'D' && datum.g == 'Con'"}],
    "mark": {"type": "area", "color": "#bdbdbd", "opacity": 0.45},
    "encoding": {"x": {"field": "t", "type": "quantitative"}, "y": {"field": "lo", "type": "quantitative"}, "y2": {"field": "hi"}}},
   {"data": {"name": "xticks"}, "mark": {"type": "rule", "color": "#555555", "strokeWidth": 1},
    "encoding": {"x": {"field": "t", "type": "quantitative"}, "y": {"datum": 0}, "y2": {"datum": 28}}},
   {"data": {"name": "xticks"}, "mark": {"type": "rule", "color": "#555555", "strokeWidth": 1},
    "encoding": {"x": {"field": "t", "type": "quantitative"}, "y": {"datum": 1972}, "y2": {"datum": 2000}}},
   {"data": {"name": "yticks"}, "mark": {"type": "rule", "color": "#555555", "strokeWidth": 1},
    "encoding": {"y": {"field": "v", "type": "quantitative"}, "x": {"datum": 0}, "x2": {"datum": 3.2}}},
   {"data": {"name": "yticks"}, "mark": {"type": "rule", "color": "#555555", "strokeWidth": 1},
    "encoding": {"y": {"field": "v", "type": "quantitative"}, "x": {"datum": 296.8}, "x2": {"datum": 300}}},
   {"data": {"name": "lines"}, "transform": [{"filter": "datum.pn == 'D' && datum.g == 'Con'"}],
    "mark": {"type": "line", "color": "#000000", "strokeWidth": 3.2},
    "encoding": {"x": {"field": "t", "type": "quantitative"}, "y": {"field": "v", "type": "quantitative"}}},
   {"data": {"name": "lines"}, "transform": [{"filter": "datum.pn == 'D' && datum.g == 'Stim'"}],
    "mark": {"type": "line", "color": "#ff0000", "strokeWidth": 3.2},
    "encoding": {"x": {"field": "t", "type": "quantitative"}, "y": {"field": "v", "type": "quantitative"}}},
   {"data": {"values": [{}]}, "mark": {"type": "rect", "color": "#0b4cff"},
    "encoding": {"x": {"datum": 29}, "x2": {"datum": 179}, "y": {"datum": 1837}, "y2": {"datum": 2000}}},
   {"data": {"values": [{}]}, "mark": {"type": "text", "text": "+Tonic Stim.", "fontSize": 25, "fontWeight": "bold", "color": "#ffffff", "align": "center", "baseline": "middle"},
    "encoding": {"x": {"datum": 104}, "y": {"datum": 1915}}},
   {"data": {"values": [{}]}, "mark": {"type": "text", "text": "Con", "fontSize": 20, "fontWeight": "bold", "color": "#000000", "align": "center", "baseline": "middle"},
    "encoding": {"x": {"datum": 280}, "y": {"datum": 186}}},
   {"data": {"values": [{}]}, "mark": {"type": "text", "text": "+Stim", "fontSize": 20, "fontWeight": "bold", "color": "#ff0000", "align": "center", "baseline": "middle"},
    "encoding": {"x": {"datum": 280}, "y": {"datum": 74}}},
   {"data": {"values": [{}]}, "mark": {"type": "text", "text": "BF PV ChR2+", "fontSize": 21, "fontWeight": "bold", "color": "#000000", "align": "center", "baseline": "alphabetic"},
    "encoding": {"x": {"datum": 149.2}, "y": {"datum": 2087}}},
   {"data": {"values": [{}]}, "mark": {"type": "text", "text": "D", "fontSize": 26, "fontWeight": "bold", "align": "center", "baseline": "middle", "color": "#000000"},
    "encoding": {"x": {"datum": -48}, "y": {"datum": 2205}}}
  ]
 },
 {
  "width": 467, "height": 352,
  "view": {"stroke": "#555555", "strokeWidth": 1},
  "layer": [
   {"data": {"name": "bands"}, "transform": [{"filter": "datum.pn == 'E' && datum.g == 'Stim'"}],
    "mark": {"type": "area", "color": "#e6c9c2", "opacity": 0.4},
    "encoding": {
     "x": {"field": "t", "type": "quantitative", "scale": {"domain": [0, 300], "nice": false, "zero": false},
           "axis": {"values": [0, 30, 60, 90, 120, 150, 180, 210, 240, 270, 300], "title": "Time (s)", "grid": true, "gridDash": [1.5, 3.5], "gridColor": "#b5b5b5", "gridWidth": 1, "domain": false, "ticks": false, "labelPadding": 8, "labelFontSize": 19, "labelColor": "#262626", "labelFlush": false, "titleFontSize": 20, "titleColor": "#262626", "titlePadding": 6}},
     "y": {"field": "lo", "type": "quantitative", "scale": {"domain": [0, 2000], "nice": false},
           "axis": {"values": [0, 500, 1000, 1500, 2000], "format": "d", "title": "Cumulative Distance (cm)", "grid": true, "gridDash": [1.5, 3.5], "gridColor": "#b5b5b5", "gridWidth": 1, "domain": false, "ticks": false, "labelPadding": 8, "labelFontSize": 19, "labelColor": "#262626", "titleFontSize": 20, "titleColor": "#262626", "titlePadding": 9}},
     "y2": {"field": "hi"}}},
   {"data": {"name": "bands"}, "transform": [{"filter": "datum.pn == 'E' && datum.g == 'Con'"}],
    "mark": {"type": "area", "color": "#bdbdbd", "opacity": 0.45},
    "encoding": {"x": {"field": "t", "type": "quantitative"}, "y": {"field": "lo", "type": "quantitative"}, "y2": {"field": "hi"}}},
   {"data": {"name": "xticks"}, "mark": {"type": "rule", "color": "#555555", "strokeWidth": 1},
    "encoding": {"x": {"field": "t", "type": "quantitative"}, "y": {"datum": 0}, "y2": {"datum": 28}}},
   {"data": {"name": "xticks"}, "mark": {"type": "rule", "color": "#555555", "strokeWidth": 1},
    "encoding": {"x": {"field": "t", "type": "quantitative"}, "y": {"datum": 1972}, "y2": {"datum": 2000}}},
   {"data": {"name": "yticks"}, "mark": {"type": "rule", "color": "#555555", "strokeWidth": 1},
    "encoding": {"y": {"field": "v", "type": "quantitative"}, "x": {"datum": 0}, "x2": {"datum": 3.2}}},
   {"data": {"name": "yticks"}, "mark": {"type": "rule", "color": "#555555", "strokeWidth": 1},
    "encoding": {"y": {"field": "v", "type": "quantitative"}, "x": {"datum": 296.8}, "x2": {"datum": 300}}},
   {"data": {"name": "lines"}, "transform": [{"filter": "datum.pn == 'E' && datum.g == 'Con'"}],
    "mark": {"type": "line", "color": "#000000", "strokeWidth": 3.2},
    "encoding": {"x": {"field": "t", "type": "quantitative"}, "y": {"field": "v", "type": "quantitative"}}},
   {"data": {"name": "lines"}, "transform": [{"filter": "datum.pn == 'E' && datum.g == 'Stim'"}],
    "mark": {"type": "line", "color": "#ff0000", "strokeWidth": 3.2},
    "encoding": {"x": {"field": "t", "type": "quantitative"}, "y": {"field": "v", "type": "quantitative"}}},
   {"data": {"values": [{}]}, "mark": {"type": "rect", "color": "#0b4cff"},
    "encoding": {"x": {"datum": 29}, "x2": {"datum": 179}, "y": {"datum": 1837}, "y2": {"datum": 2000}}},
   {"data": {"values": [{}]}, "mark": {"type": "text", "text": "+Tonic Stim.", "fontSize": 25, "fontWeight": "bold", "color": "#ffffff", "align": "center", "baseline": "middle"},
    "encoding": {"x": {"datum": 104}, "y": {"datum": 1915}}},
   {"data": {"values": [{}]}, "mark": {"type": "text", "text": "Con", "fontSize": 20, "fontWeight": "bold", "color": "#000000", "align": "center", "baseline": "middle"},
    "encoding": {"x": {"datum": 277}, "y": {"datum": 228}}},
   {"data": {"values": [{}]}, "mark": {"type": "text", "text": "+Stim", "fontSize": 20, "fontWeight": "bold", "color": "#ff0000", "align": "center", "baseline": "middle"},
    "encoding": {"x": {"datum": 277}, "y": {"datum": 112}}},
   {"data": {"values": [{}]}, "mark": {"type": "text", "text": "Control (ChR2-)", "fontSize": 21, "fontWeight": "bold", "color": "#000000", "align": "center", "baseline": "alphabetic"},
    "encoding": {"x": {"datum": 158.9}, "y": {"datum": 2068}}},
   {"data": {"values": [{}]}, "mark": {"type": "text", "text": "E", "fontSize": 26, "fontWeight": "bold", "align": "center", "baseline": "middle", "color": "#000000"},
    "encoding": {"x": {"datum": -57.9}, "y": {"datum": 2205}}}
  ]
 }
]
}
